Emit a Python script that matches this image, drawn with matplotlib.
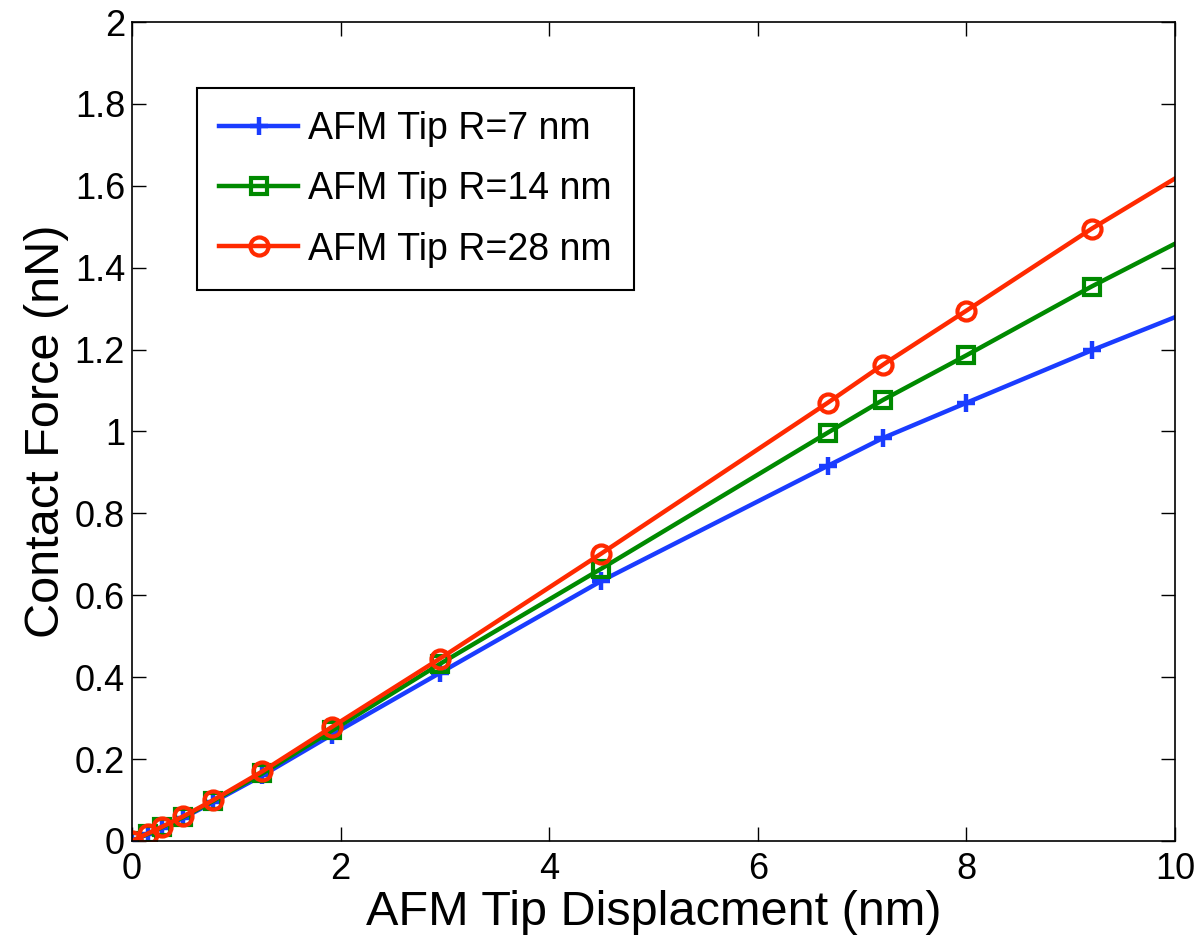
import matplotlib.pyplot as plt
from matplotlib.ticker import FormatStrFormatter

plt.rcParams['font.family'] = ['Liberation Sans', 'DejaVu Sans']

# tip displacement (nm); last point sits beyond the axis limit
disp = [0, 0.15, 0.29, 0.49, 0.78, 1.25, 1.92, 2.95, 4.5, 6.67, 7.2, 8.0, 9.2, 10.6]

force_r7 = [0, 0.016, 0.032, 0.056, 0.095, 0.160, 0.260, 0.410, 0.635, 0.916, 0.984, 1.070, 1.198, 1.340]
force_r14 = [0, 0.017, 0.034, 0.058, 0.098, 0.165, 0.270, 0.432, 0.665, 0.997, 1.077, 1.186, 1.354, 1.537]
force_r28 = [0, 0.018, 0.035, 0.060, 0.100, 0.170, 0.279, 0.445, 0.702, 1.070, 1.163, 1.295, 1.495, 1.710]

labels = ['AFM Tip R=7 nm', 'AFM Tip R=14 nm', 'AFM Tip R=28 nm']

fig = plt.figure(figsize=(12.02, 9.41), dpi=100)
ax = fig.add_axes([0.1098, 0.1063, 0.8677, 0.8703])

ax.plot(disp, force_r7, color='#1a3cff', lw=3.2, marker='+', ms=13, mew=3.2, label=labels[0])
ax.plot(disp, force_r14, color='#008a00', lw=3.2, marker='s', ms=11, mew=3, mfc='none', label=labels[1])
ax.plot(disp, force_r28, color='#ff2a00', lw=3.2, marker='o', ms=13, mew=3, mfc='none', label=labels[2])

ax.set_xlim(0, 10)
ax.set_ylim(0, 2)
ax.set_xticks([0, 2, 4, 6, 8, 10])
ax.set_yticks([0, 0.2, 0.4, 0.6, 0.8, 1, 1.2, 1.4, 1.6, 1.8, 2])
ax.yaxis.set_major_formatter(FormatStrFormatter('%g'))
ax.tick_params(direction='in', length=10, width=1, labelsize=26, top=True, right=True)
ax.tick_params(axis='x', pad=8)
ax.tick_params(axis='y', pad=5)
for s in ax.spines.values():
    s.set_linewidth(1.2)

ax.set_xlabel('AFM Tip Displacment (nm)', fontsize=35, labelpad=2)
ax.set_ylabel('Contact Force (nN)', fontsize=35, labelpad=4)

leg = ax.legend(loc='upper left', bbox_to_anchor=(0.0623, 0.919), fontsize=27, numpoints=1,
                fancybox=False, framealpha=1, edgecolor='black', handlelength=2.1,
                borderpad=0.6, labelspacing=0.65, handletextpad=0.25, borderaxespad=0)
leg.get_frame().set_linewidth(1.5)

fig.savefig('out.png', dpi=100)
